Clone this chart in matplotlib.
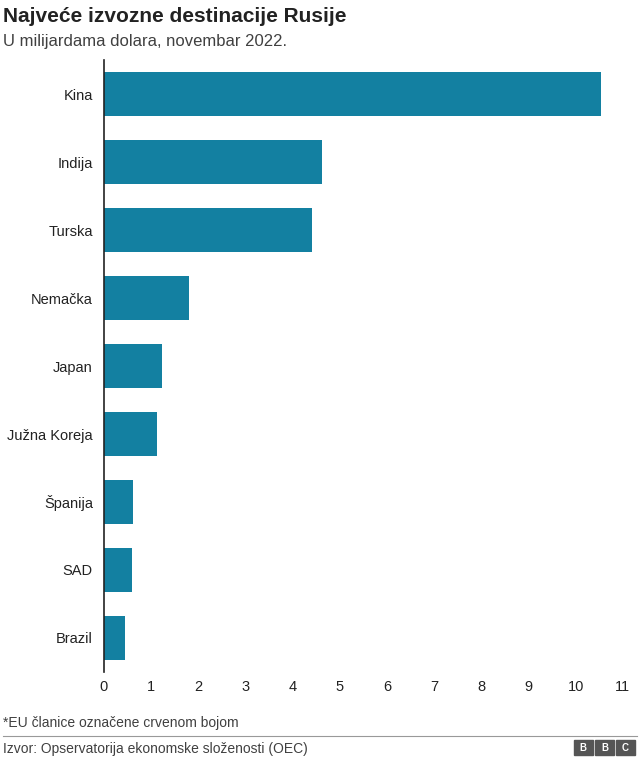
import matplotlib.pyplot as plt
from matplotlib.patches import Rectangle

countries = ['Kina', 'Indija', 'Turska', 'Nemačka', 'Japan', 'Južna Koreja', 'Španija', 'SAD', 'Brazil']
values = [10.53, 4.62, 4.41, 1.80, 1.23, 1.12, 0.61, 0.59, 0.44]
ticks = list(range(0, 12))

plt.rcParams['font.family'] = ['Liberation Sans', 'DejaVu Sans']

fig = plt.figure(figsize=(6.4, 7.63), dpi=100)
ax = fig.add_axes([0.1625, 0.1193, 0.8105, 0.802])

pos = list(range(len(countries)))
ax.barh(pos, values, height=0.65, color='#1380A1')
ax.set_ylim(len(countries) - 0.5, -0.5)
ax.set_xlim(0, 11)
ax.set_yticks(pos)
ax.set_yticklabels(countries, fontsize=10.5, color='#222222')
ax.set_xticks(ticks)
ax.set_xticklabels([str(t) for t in ticks], fontsize=10.5, color='#222222')
ax.tick_params(axis='y', length=0, pad=8)
ax.tick_params(axis='x', length=0, pad=6)
for s in ['top', 'right', 'bottom']:
    ax.spines[s].set_visible(False)
ax.spines['left'].set_color('#222222')
ax.spines['left'].set_linewidth(1.2)

fig.text(0.005, 0.978, 'Najveće izvozne destinacije Rusije', fontsize=15, fontweight='bold', va='center', color='#222222')
fig.text(0.005, 0.945, 'U milijardama dolara, novembar 2022.', fontsize=12, va='center', color='#404040')
fig.text(0.005, 0.053, '*EU članice označene crvenom bojom', fontsize=10, va='center', color='#404040')
fig.add_artist(plt.Line2D([0.005, 0.995], [0.036, 0.036], color='#999999', lw=0.8))
fig.text(0.005, 0.019, 'Izvor: Opservatorija ekonomske složenosti (OEC)', fontsize=10, va='center', color='#404040')

for i, letter in enumerate('BBC'):
    x0 = 0.897 + i * 0.033
    fig.add_artist(Rectangle((x0, 0.010), 0.029, 0.020, transform=fig.transFigure, color='#555555'))
    fig.text(x0 + 0.0145, 0.020, letter, fontsize=7, fontweight='bold', color='white', ha='center', va='center')

fig.savefig('out.png', dpi=100, facecolor='white')
